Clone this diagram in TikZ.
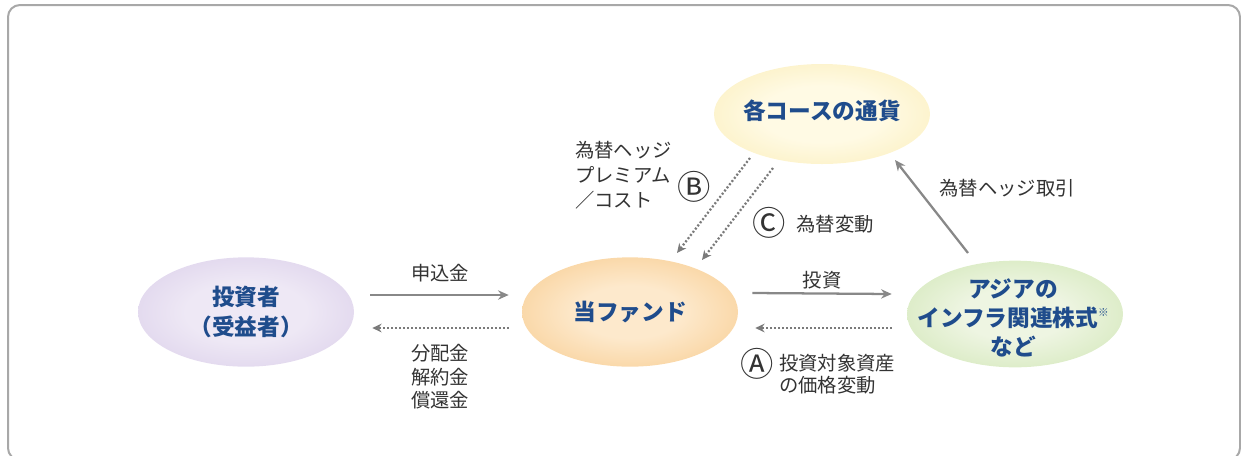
\documentclass[tikz,border=0pt]{standalone}
\usepackage{fontspec}
\setmainfont{Noto Sans CJK JP}
\usetikzlibrary{shapes.geometric,arrows.meta,calc}
\definecolor{nodetext}{HTML}{1F4C8C}
\definecolor{labeltext}{HTML}{333333}
\definecolor{arrowgray}{HTML}{888888}
\definecolor{dotgray}{HTML}{7A7A7A}
\definecolor{framegray}{HTML}{A8A8A8}
\definecolor{pin}{HTML}{EEE8F5}
\definecolor{pmid}{HTML}{D9CDE9}
\definecolor{pout}{HTML}{A891CB}
\definecolor{oin}{HTML}{FDE9CC}
\definecolor{omid}{HTML}{F8CD92}
\definecolor{oout}{HTML}{ED9F46}
\definecolor{yin}{HTML}{FFFAE4}
\definecolor{ymid}{HTML}{FAEDB8}
\definecolor{yout}{HTML}{EDCF6C}
\definecolor{gin}{HTML}{EEF5E2}
\definecolor{gmid}{HTML}{D2E7B8}
\definecolor{gout}{HTML}{86BB55}
\pgfdeclareradialshading{purpleball}{\pgfpoint{0bp}{0bp}}{color(0bp)=(pin); color(14bp)=(pin); color(36bp)=(pmid); color(50bp)=(pout)}
\pgfdeclareradialshading{orangeball}{\pgfpoint{0bp}{0bp}}{color(0bp)=(oin); color(12bp)=(oin); color(34bp)=(omid); color(50bp)=(oout)}
\pgfdeclareradialshading{yellowball}{\pgfpoint{0bp}{0bp}}{color(0bp)=(yin); color(14bp)=(yin); color(36bp)=(ymid); color(50bp)=(yout)}
\pgfdeclareradialshading{greenball}{\pgfpoint{0bp}{0bp}}{color(0bp)=(gin); color(12bp)=(gin); color(34bp)=(gmid); color(50bp)=(gout)}
\begin{document}
\begin{tikzpicture}[x=0.75pt,y=-0.75pt,
  ball/.style={ellipse,minimum width=162pt,minimum height=82pt,inner sep=0pt},
  balltext/.style={inner sep=0pt,align=center,text=nodetext,font=\fontsize{17}{22.5}\selectfont\bfseries},
  lab/.style={text=labeltext,font=\fontsize{14.5}{17.6}\selectfont,inner sep=0pt},
  circ/.style={text=labeltext,font=\fontsize{25}{25}\selectfont,inner sep=0pt},
  solidarrow/.style={draw=arrowgray,line width=1.7pt,-{Stealth[length=8pt,width=7pt]}},
  dotarrow/.style={draw=dotgray,line width=1.7pt,dash pattern=on 1.5pt off 1.5pt,-{Stealth[length=7pt,width=6.5pt]}},
]
\useasboundingbox (0,0) rectangle (1241,455);
\draw[framegray,line width=1.5pt,rounded corners=9pt] (8,5) rectangle (1240,460);

\node[ball,shading=purpleball] (inv) at (246,312) {};
\node[ball,shading=orangeball] (fund) at (630,312) {};
\node[ball,shading=yellowball,minimum height=75pt] (cur) at (822,114) {};
\node[ball,shading=greenball,minimum height=80pt] (asia) at (1015,314) {};

\node[balltext] (invT) at (inv.center) {投資者\\（受益者）};
\node[balltext] (fundT) at (fund.center) {当ファンド};
\node[balltext] (curT) at ($(cur.center)+(0,-3)$) {各コースの通貨};
\node[balltext,font=\fontsize{17}{22}\selectfont\bfseries] (asiaT) at ($(asia.center)+(-2,4)$) {アジアの\\インフラ関連株式\raisebox{0.45em}{\fontsize{8}{8}\selectfont\mdseries ※}\\など};

\node[lab] (l1) at (440,273) {申込金};
\node[lab,align=center] (l2) at (440,377) {分配金\\解約金\\償還金};
\node[lab] (l3) at (822,280) {投資};
\node[circ] (cA) at (757,364) {Ⓐ};
\node[lab,align=left,anchor=west,font=\fontsize{14.5}{16.5}\selectfont] (l4) at (779,374) {投資対象資産\\の価格変動};
\node[lab] (l5) at (1007,188) {為替ヘッジ取引};
\node[lab,align=left,anchor=west,font=\fontsize{14.5}{18.75}\selectfont] (l6) at (575,175) {為替ヘッジ\\プレミアム\\／コスト};
\node[circ] (cB) at (694,187) {Ⓑ};
\node[circ] (cC) at (769,223) {Ⓒ};
\node[lab] (l7) at (835,224) {為替変動};

\draw[solidarrow] ($(inv.east)+(16,-17)$) -- ($(fund.west)+(-13,-17)$);
\draw[dotarrow] ($(fund.west)+(-13,16)$) -- ($(inv.east)+(18,16)$);
\draw[solidarrow] ($(fund.east)+(14,-19)$) -- ($(asia.west)+(-15,-20)$);
\draw[dotarrow] ($(asia.west)+(-15,14)$) -- ($(fund.east)+(17,16)$);
\draw[solidarrow] ($(asia.center)+(-47,-61)$) -- ($(cur.center)+(73,46)$);
\draw[dotarrow] ($(cur.center)+(-72,44)$) -- ($(fund.center)+(47,-59)$);
\draw[dotarrow] ($(cur.center)+(-49,54)$) -- ($(fund.center)+(72,-52)$);
\end{tikzpicture}
\end{document}
